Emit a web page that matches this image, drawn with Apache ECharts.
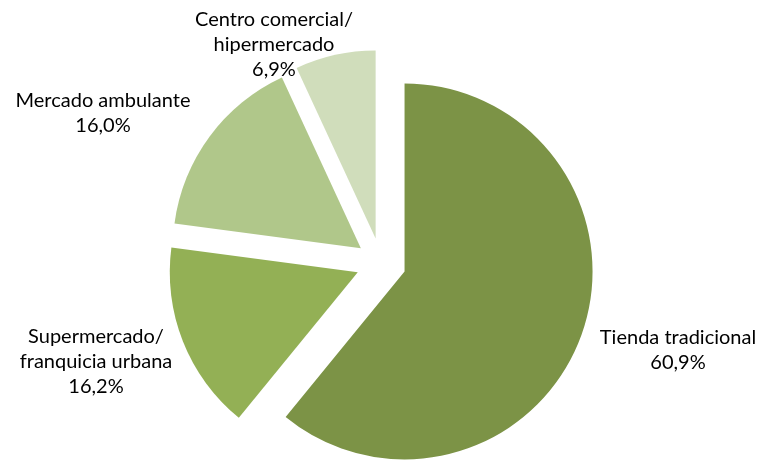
<!DOCTYPE html>
<html>
<head>
<meta charset="utf-8">
<script src="https://cdn.jsdelivr.net/npm/echarts@6/dist/echarts.min.js"></script>
<style>
  html, body { margin: 0; padding: 0; background: #ffffff; }
  #chart { width: 758px; height: 462px; }
</style>
</head>
<body>
<div id="chart"></div>
<script>
// Point-of-sale channels and their share (%)
const categories = [
  'Tienda tradicional',
  'Supermercado/\nfranquicia urbana',
  'Mercado ambulante',
  'Centro comercial/\nhipermercado'
];
const shares = [60.9, 16.2, 16.0, 6.9];
const sliceColors = ['#7c9346', '#93b055', '#b0c78a', '#d0ddbb'];

// Label anchor points (centre of each label block)
const labelAnchors = [
  [678, 350],
  [96, 362],
  [103, 113],
  [274, 45]
];

const fmt = v => v.toFixed(1).replace('.', ',') + '%';

const chart = echarts.init(document.getElementById('chart'), null, { renderer: 'canvas' });

chart.setOption({
  animation: false,
  graphic: categories.map((name, i) => ({
    type: 'text',
    x: labelAnchors[i][0],
    y: labelAnchors[i][1],
    silent: true,
    style: {
      text: name + '\n' + fmt(shares[i]),
      fontFamily: 'Lato',
      fontSize: 20,
      lineHeight: 25,
      fill: '#000000',
      align: 'center',
      verticalAlign: 'middle'
    }
  })),
  series: [{
    type: 'pie',
    center: [381, 263],
    radius: [0, 188],
    startAngle: 90,
    clockwise: true,
    selectedMode: 'multiple',
    selectedOffset: 25,
    silent: true,
    itemStyle: { borderWidth: 0 },
    select: { itemStyle: { borderWidth: 0 } },
    label: { show: false },
    labelLine: { show: false },
    data: categories.map((name, i) => ({
      name: name,
      value: shares[i],
      selected: true,
      itemStyle: { color: sliceColors[i] }
    }))
  }]
});
</script>
</body>
</html>
